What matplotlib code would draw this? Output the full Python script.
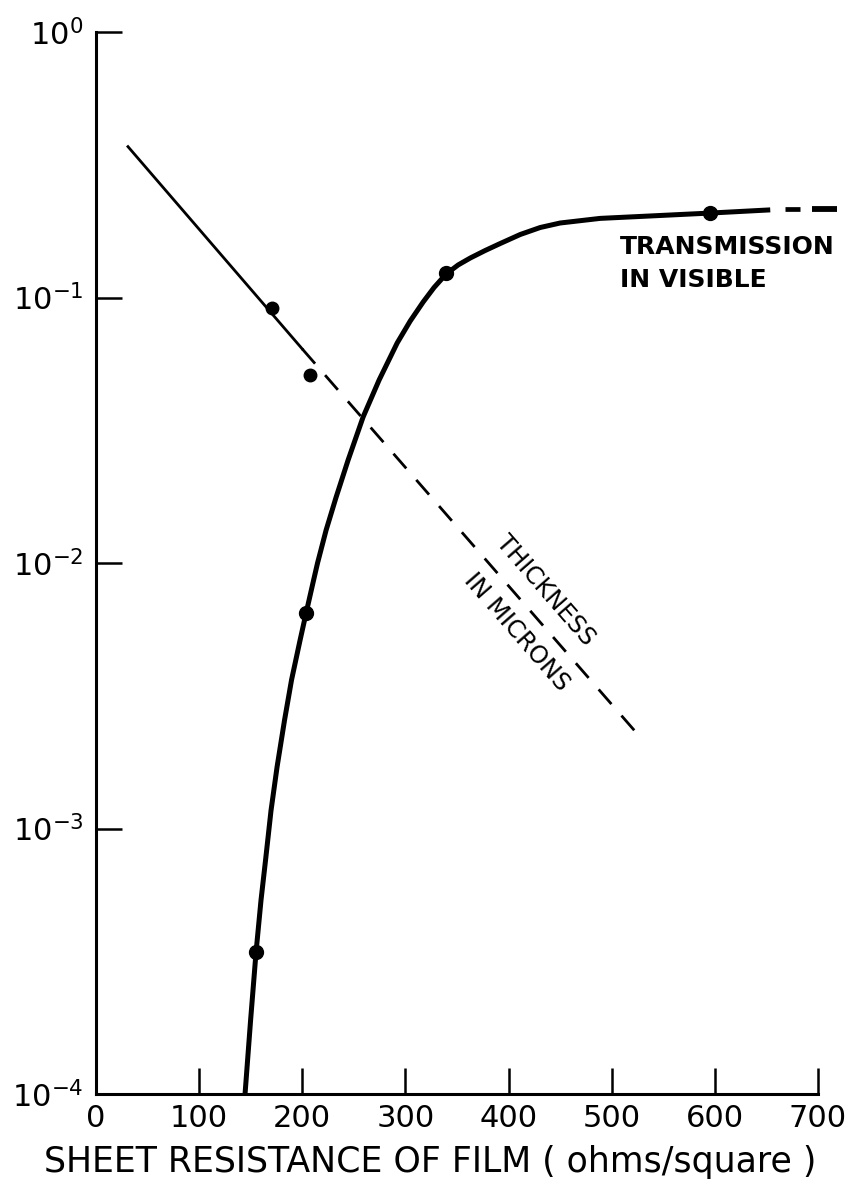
import matplotlib
matplotlib.use("Agg")
import matplotlib.pyplot as plt
from matplotlib.ticker import FixedLocator, FixedFormatter, NullLocator

plt.rcParams['font.family'] = ['DejaVu Sans']
plt.rcParams['lines.scale_dashes'] = False

# Sheet resistance (ohms/square) along the visible-transmission curve
trans_curve_x = [144.5, 149.9, 155.2, 160.0, 164.4, 169.7, 175.6, 182.8, 189.6,
                 197.9, 203.7, 211.0, 214.8, 223.1, 232.8, 244.4, 259.0, 274.5,
                 292.0, 304.6, 317.2, 327.8, 339.5, 351.1, 362.8, 377.3, 391.9,
                 411.3, 430.7, 450.0, 488.8, 537.3, 595.5, 653.7]
trans_curve_y = [1.00e-4, 1.90e-4, 3.43e-4, 5.38e-4, 7.61e-4, 1.17e-3, 1.71e-3,
                 2.56e-3, 3.63e-3, 5.13e-3, 6.48e-3, 8.63e-3, 1.00e-2, 1.33e-2,
                 1.77e-2, 2.44e-2, 3.55e-2, 4.89e-2, 6.74e-2, 8.15e-2, 9.62e-2,
                 0.1091, 0.1226, 0.1326, 0.1408, 0.1503, 0.1597, 0.1727, 0.1835,
                 0.1908, 0.1986, 0.2028, 0.2080, 0.2138]
# Extrapolated tail of the transmission curve (dashed)
trans_tail1_x = [668.0, 683.0]
trans_tail1_y = [0.215, 0.215]
trans_tail2_x = [694.5, 718.5]
trans_tail2_y = [0.216, 0.216]
# Measured transmission points
trans_pts_x = [155.2, 203.7, 339.5, 595.5]
trans_pts_y = [3.43e-4, 6.48e-3, 0.124, 0.208]

# Thickness in microns: fitted line (solid part, then dashed extrapolation)
thick_solid_x = [31.0, 200.0]
thick_solid_y = [0.37, 0.064]
thick_dash_x = [200.0, 528.0]
thick_dash_y = [0.064, 2.2e-3]
# Measured thickness points
thick_pts_x = [171.0, 207.0]
thick_pts_y = [0.091, 0.051]

x_ticks = [0, 100, 200, 300, 400, 500, 600, 700]
x_tick_labels = ['0', '100', '200', '300', '400', '500', '600', '700']
y_ticks = [1e-4, 1e-3, 1e-2, 1e-1, 1e0]
y_tick_labels = [r'$\mathregular{10^{-4}}$', r'$\mathregular{10^{-3}}$',
                 r'$\mathregular{10^{-2}}$', r'$\mathregular{10^{-1}}$',
                 r'$\mathregular{10^{0}}$']

W, H = 855, 1195
fig = plt.figure(figsize=(W / 100, H / 100), dpi=100)
ax = fig.add_axes([96 / W, 1 - 1094 / H, (818 - 96) / W, (1094 - 32) / H])

ax.set_yscale('log')
ax.set_xlim(0, 700)
ax.set_ylim(1e-4, 1e0)

for side in ('top', 'right'):
    ax.spines[side].set_visible(False)
for side in ('left', 'bottom'):
    ax.spines[side].set_linewidth(2.2)
    ax.spines[side].set_color('black')

ax.xaxis.set_major_locator(FixedLocator(x_ticks))
ax.xaxis.set_major_formatter(FixedFormatter(x_tick_labels))
ax.yaxis.set_major_locator(FixedLocator(y_ticks))
ax.yaxis.set_major_formatter(FixedFormatter(y_tick_labels))
ax.xaxis.set_minor_locator(NullLocator())
ax.yaxis.set_minor_locator(NullLocator())
ax.tick_params(axis='both', direction='in', length=19, width=1.8, color='black')
ax.tick_params(axis='x', labelsize=22, pad=7)
ax.tick_params(axis='y', labelsize=22, pad=9)

# Transmission in the visible
ax.plot(trans_curve_x, trans_curve_y, color='black', lw=3.6,
        solid_capstyle='butt', solid_joinstyle='round', zorder=3)
ax.plot(trans_tail1_x, trans_tail1_y, color='black', lw=3.4, clip_on=False,
        solid_capstyle='butt', zorder=3)
ax.plot(trans_tail2_x, trans_tail2_y, color='black', lw=4.2, clip_on=False,
        solid_capstyle='butt', zorder=3)
ax.plot(trans_pts_x, trans_pts_y, 'o', color='black', ms=10, zorder=4)

# Thickness in microns
ax.plot(thick_solid_x, thick_solid_y, color='black', lw=2.0, zorder=3)
ax.plot(thick_dash_x, thick_dash_y, color='black', lw=2.0,
        dashes=(14, 11), zorder=3)
ax.plot(thick_pts_x, thick_pts_y, 'o', color='black', ms=9, zorder=4)

ax.text(508, 0.146, 'TRANSMISSION', fontsize=18, fontweight='bold',
        ha='left', va='baseline')
ax.text(508, 0.110, 'IN VISIBLE', fontsize=18, fontweight='bold',
        ha='left', va='baseline')

ax.text(435.5, 7.9e-3, 'THICKNESS', fontsize=17.5, rotation=-49,
        rotation_mode='anchor', ha='center', va='center')
ax.text(408, 5.5e-3, 'IN MICRONS', fontsize=17.5, rotation=-49,
        rotation_mode='anchor', ha='center', va='center')

fig.text(430 / W, 1 - 1162 / H, 'SHEET RESISTANCE OF FILM ( ohms/square )',
         fontsize=25, ha='center', va='center')

fig.savefig('out.png', dpi=100, facecolor='white')
